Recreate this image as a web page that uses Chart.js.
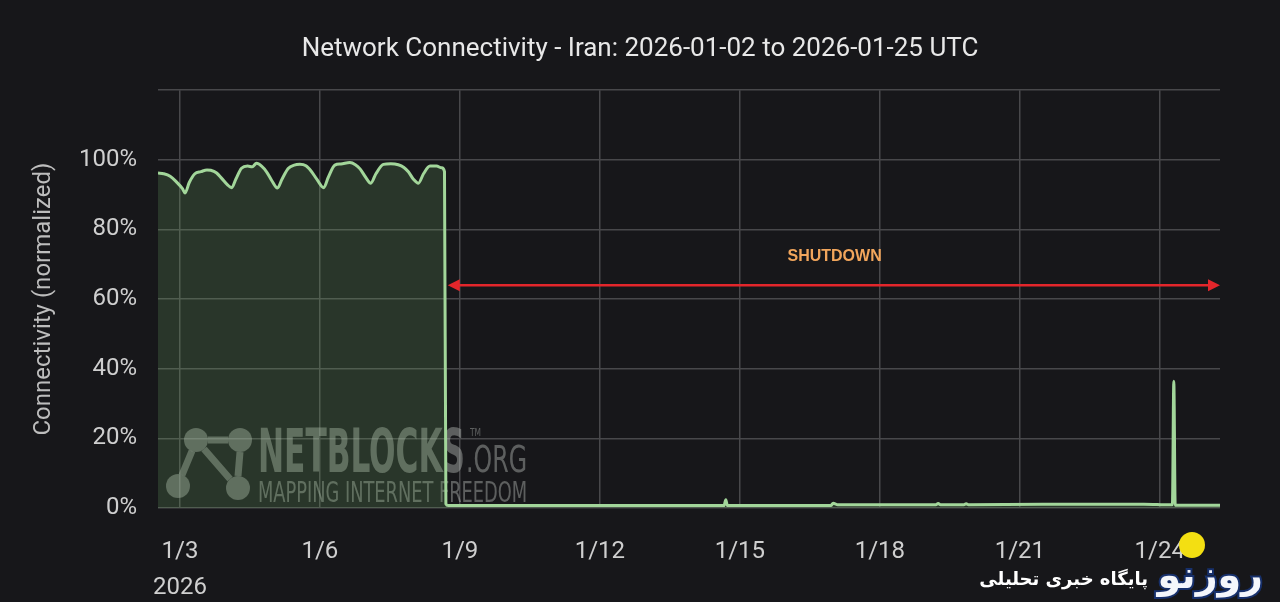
<!DOCTYPE html>
<html>
<head>
<meta charset="utf-8">
<script src="https://cdn.jsdelivr.net/npm/chart.js@4.4.1/dist/chart.umd.min.js"></script>
<style>
  html, body { margin: 0; padding: 0; background: #17171a; }
</style>
</head>
<body>
<canvas id="myChart" width="1280" height="602"></canvas>
<script>
// x values are days of January 2026 (UTC, fractional)
var days = [2.53, 2.65, 2.79, 2.93, 3.05, 3.11, 3.20, 3.32, 3.45, 3.58, 3.66, 3.78, 3.90, 4.02, 4.11,
  4.20, 4.32, 4.45, 4.55, 4.64, 4.75, 4.86, 4.97, 5.09, 5.19, 5.32, 5.45, 5.57, 5.70, 5.81,
  5.94, 6.08, 6.18, 6.32, 6.45, 6.64, 6.76, 6.86, 6.98, 7.09, 7.20, 7.36, 7.52, 7.68, 7.80,
  7.90, 8.00, 8.11, 8.22, 8.36, 8.50, 8.61, 8.67, 8.70, 8.75,
  14.66, 14.70, 14.73, 16.95, 17.00, 17.10, 19.20, 19.25, 19.30, 19.80, 19.85, 19.90,
  21.49, 21.92, 23.66, 24.22, 24.27, 24.30, 24.33, 25.29];
var connectivity = [96.2, 96.0, 95.3, 93.6, 91.8, 90.5, 93.5, 96.0, 96.6, 97.1, 97.0, 96.3, 94.6, 92.8, 92.0,
  94.5, 97.6, 98.2, 98.0, 99.0, 98.2, 96.5, 94.0, 91.9, 94.5, 97.5, 98.5, 98.7, 98.3, 96.8,
  94.3, 92.0, 95.0, 98.5, 98.8, 99.2, 98.6, 97.4, 95.0, 93.3, 96.0, 98.7, 98.9, 98.6, 97.8,
  96.5, 94.5, 93.3, 96.0, 98.2, 98.2, 97.7, 96.6, 1.2, 0.7,
  0.7, 2.4, 0.7, 0.7, 1.4, 0.9, 0.9, 1.3, 0.9, 0.9, 1.2, 0.9,
  1.1, 1.1, 1.1, 0.9, 0.9, 36.4, 0.8, 0.8];

var tickDays = [3, 6, 9, 12, 15, 18, 21, 24];
var tickLabels = ['1/3', '1/6', '1/9', '1/12', '1/15', '1/18', '1/21', '1/24'];
var yearLabel = '2026';
var xMin = 2.53, xMax = 25.29;

var shutdownStart = 8.74, shutdownLevel = 64;
var shutdownLabel = 'SHUTDOWN', shutdownLabelDay = 17.03, shutdownLabelLevel = 72.3;

var chartTitle = 'Network Connectivity - Iran: 2026-01-02 to 2026-01-25 UTC';
var gridColor = '#48484b';

function fitText(ctx, text, x, yBase, size, weight, width) {
  ctx.font = weight + ' ' + size + 'px "Liberation Sans Narrow", "DejaVu Sans Condensed", sans-serif';
  var w = ctx.measureText(text).width;
  ctx.save();
  ctx.translate(x, yBase);
  ctx.scale(width / w, 1);
  ctx.fillText(text, 0, 0);
  ctx.restore();
}

var decor = {
  id: 'decor',
  beforeDatasetsDraw: function (chart) {
    // NetBlocks watermark
    var ctx = chart.ctx, a = chart.chartArea;
    var L = a.left, B = a.bottom;
    ctx.save();
    ctx.fillStyle = 'rgba(190,195,190,0.42)';
    ctx.strokeStyle = 'rgba(190,195,190,0.42)';
    ctx.lineWidth = 7;
    var n = [[L + 38, B - 68], [L + 82, B - 68], [L + 20, B - 22], [L + 80, B - 20]];
    ctx.beginPath();
    ctx.moveTo(n[0][0] + 12, n[0][1]); ctx.lineTo(n[1][0] - 12, n[1][1]);
    ctx.moveTo(n[0][0] - 4, n[0][1] + 11); ctx.lineTo(n[2][0] + 4, n[2][1] - 11);
    ctx.moveTo(n[0][0] + 8, n[0][1] + 9); ctx.lineTo(n[3][0] - 8, n[3][1] - 9);
    ctx.moveTo(n[1][0], n[1][1] + 12); ctx.lineTo(n[3][0], n[3][1] - 12);
    ctx.stroke();
    n.forEach(function (p) {
      ctx.beginPath(); ctx.arc(p[0], p[1], 12, 0, Math.PI * 2); ctx.fill();
    });
    ctx.textBaseline = 'alphabetic';
    fitText(ctx, 'NETBLOCKS', L + 100, B - 36, 61, 'bold', 207);
    fitText(ctx, '.ORG', L + 308, B - 36, 37, 'normal', 61);
    fitText(ctx, 'TM', L + 312, B - 72, 10, 'normal', 11);
    fitText(ctx, 'MAPPING INTERNET FREEDOM', L + 100, B - 6, 28, 'normal', 269);
    ctx.restore();
  },
  afterDatasetsDraw: function (chart) {
    var ctx = chart.ctx, x = chart.scales.x, y = chart.scales.y;
    var x1 = x.getPixelForValue(shutdownStart), x2 = x.getPixelForValue(xMax);
    var yy = y.getPixelForValue(shutdownLevel);
    ctx.save();
    ctx.strokeStyle = '#e3262b';
    ctx.fillStyle = '#e3262b';
    ctx.lineWidth = 2.5;
    ctx.beginPath(); ctx.moveTo(x1 + 8, yy); ctx.lineTo(x2 - 8, yy); ctx.stroke();
    ctx.beginPath(); ctx.moveTo(x1, yy); ctx.lineTo(x1 + 12, yy - 6); ctx.lineTo(x1 + 12, yy + 6); ctx.closePath(); ctx.fill();
    ctx.beginPath(); ctx.moveTo(x2, yy); ctx.lineTo(x2 - 12, yy - 6); ctx.lineTo(x2 - 12, yy + 6); ctx.closePath(); ctx.fill();
    ctx.fillStyle = '#f2a65c';
    ctx.font = 'bold 16px "Liberation Sans", Arial, sans-serif';
    ctx.textAlign = 'center';
    ctx.textBaseline = 'middle';
    ctx.fillText(shutdownLabel, x.getPixelForValue(shutdownLabelDay), y.getPixelForValue(shutdownLabelLevel));
    ctx.restore();
  },
  afterDraw: function (chart) {
    // site logo, bottom right
    var ctx = chart.ctx;
    ctx.save();
    ctx.textAlign = 'right';
    ctx.textBaseline = 'alphabetic';
    ctx.font = 'bold 38px "DejaVu Sans", sans-serif';
    ctx.lineWidth = 4;
    ctx.strokeStyle = '#17306b';
    ctx.strokeText('روزنو', 1263, 588);
    ctx.fillStyle = '#f4f6fb';
    ctx.fillText('روزنو', 1263, 588);
    ctx.fillStyle = '#f3df12';
    ctx.beginPath(); ctx.arc(1192, 545, 13, 0, Math.PI * 2); ctx.fill();
    ctx.font = 'bold 18px "DejaVu Sans", sans-serif';
    ctx.fillStyle = '#ffffff';
    ctx.fillText('پایگاه خبری تحلیلی', 1148, 585);
    ctx.restore();
  }
};

var ctx = document.getElementById('myChart').getContext('2d');
var myChart = new Chart(ctx, {
  type: 'line',
  data: {
    datasets: [{
      data: days.map(function (d, i) { return { x: d, y: connectivity[i] }; }),
      yAxisID: 'y',
      borderColor: '#a2d69a',
      backgroundColor: 'rgba(110,170,100,0.22)',
      borderWidth: 3,
      fill: 'origin',
      pointRadius: 0,
      cubicInterpolationMode: 'monotone'
    }]
  },
  options: {
    responsive: false,
    animation: false,
    layout: { padding: 0 },
    plugins: {
      legend: { display: false },
      tooltip: { enabled: false },
      title: {
        display: true,
        text: chartTitle,
        color: '#e8e8e8',
        font: { family: 'Roboto', size: 26, weight: 'normal' },
        padding: { top: 34, bottom: 25 }
      }
    },
    scales: {
      x: {
        type: 'linear',
        min: xMin,
        max: xMax,
        border: { display: false },
        grid: { color: gridColor, lineWidth: 1.5, drawTicks: false },
        afterBuildTicks: function (s) { s.ticks = tickDays.map(function (v) { return { value: v }; }); },
        afterFit: function (s) { s.height = 94; },
        ticks: {
          color: '#cfcfcf',
          font: { family: 'Roboto', size: 24, lineHeight: 1.5 },
          padding: 26,
          maxRotation: 0,
          autoSkip: false,
          callback: function (v, i) { return i === 0 ? [tickLabels[i], yearLabel] : tickLabels[i]; }
        }
      },
      y: {
        min: 0,
        max: 120,
        border: { display: false },
        grid: { color: gridColor, lineWidth: 1.5, drawTicks: false },
        afterFit: function (s) { s.width = 158; },
        ticks: {
          stepSize: 20,
          color: '#cfcfcf',
          font: { family: 'Roboto', size: 24 },
          padding: 21,
          callback: function (v) { return v >= 120 ? '' : v + '%'; }
        },
        title: {
          display: true,
          text: 'Connectivity (normalized)',
          color: '#bdbdbd',
          font: { family: 'Roboto', size: 24 },
          padding: { top: 30, bottom: 0 }
        }
      },
      // empty right-hand margin so the title stays centred on the page
      yRight: {
        position: 'right',
        min: 0,
        max: 120,
        border: { display: false },
        grid: { display: false },
        ticks: { display: false },
        afterFit: function (s) { s.width = 60; }
      }
    }
  },
  plugins: [decor]
});
</script>
</body>
</html>
